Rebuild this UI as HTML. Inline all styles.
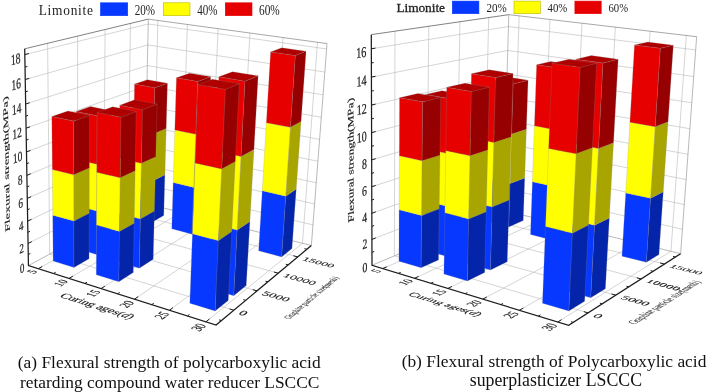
<!DOCTYPE html>
<html><head><meta charset="utf-8"><title>Flexural strength</title>
<style>html,body{margin:0;padding:0;background:#fff}svg{display:block;will-change:transform}</style></head>
<body><svg width="709" height="392" viewBox="0 0 709 392">
<rect width="709" height="392" fill="#fff"/>
<g><line x1="38.31" y1="268.68" x2="153.34" y2="205.39" stroke="#b8b8b8" stroke-width="0.6"/>
<line x1="153.34" y1="205.39" x2="157.86" y2="20.43" stroke="#b8b8b8" stroke-width="0.6"/>
<line x1="69.03" y1="278.42" x2="181.08" y2="212.44" stroke="#b8b8b8" stroke-width="0.6"/>
<line x1="181.08" y1="212.44" x2="187.41" y2="24.47" stroke="#b8b8b8" stroke-width="0.6"/>
<line x1="101.06" y1="288.58" x2="209.8" y2="219.73" stroke="#b8b8b8" stroke-width="0.6"/>
<line x1="209.8" y1="219.73" x2="218.08" y2="28.67" stroke="#b8b8b8" stroke-width="0.6"/>
<line x1="134.49" y1="299.19" x2="239.57" y2="227.3" stroke="#b8b8b8" stroke-width="0.6"/>
<line x1="239.57" y1="227.3" x2="249.93" y2="33.02" stroke="#b8b8b8" stroke-width="0.6"/>
<line x1="169.42" y1="310.27" x2="270.44" y2="235.14" stroke="#b8b8b8" stroke-width="0.6"/>
<line x1="270.44" y1="235.14" x2="283.04" y2="37.55" stroke="#b8b8b8" stroke-width="0.6"/>
<line x1="205.94" y1="321.85" x2="302.48" y2="243.28" stroke="#b8b8b8" stroke-width="0.6"/>
<line x1="302.48" y1="243.28" x2="317.49" y2="42.26" stroke="#b8b8b8" stroke-width="0.6"/>
<line x1="49.71" y1="254.09" x2="233.87" y2="310.24" stroke="#b8b8b8" stroke-width="0.6"/>
<line x1="49.71" y1="254.09" x2="47.61" y2="43.3" stroke="#b8b8b8" stroke-width="0.6"/>
<line x1="77.69" y1="239.03" x2="257.04" y2="290.9" stroke="#b8b8b8" stroke-width="0.6"/>
<line x1="77.69" y1="239.03" x2="77.58" y2="36.11" stroke="#b8b8b8" stroke-width="0.6"/>
<line x1="103.55" y1="225.11" x2="278.24" y2="273.19" stroke="#b8b8b8" stroke-width="0.6"/>
<line x1="103.55" y1="225.11" x2="105.12" y2="29.5" stroke="#b8b8b8" stroke-width="0.6"/>
<line x1="127.51" y1="212.2" x2="297.72" y2="256.92" stroke="#b8b8b8" stroke-width="0.6"/>
<line x1="127.51" y1="212.2" x2="130.51" y2="23.41" stroke="#b8b8b8" stroke-width="0.6"/>
<line x1="28.06" y1="243.5" x2="144.8" y2="184.2" stroke="#b8b8b8" stroke-width="0.6"/>
<line x1="144.8" y1="184.2" x2="312.95" y2="224.9" stroke="#b8b8b8" stroke-width="0.6"/>
<line x1="27.68" y1="221.13" x2="145.21" y2="165.06" stroke="#b8b8b8" stroke-width="0.6"/>
<line x1="145.21" y1="165.06" x2="314.58" y2="203.98" stroke="#b8b8b8" stroke-width="0.6"/>
<line x1="27.29" y1="198.41" x2="145.62" y2="145.67" stroke="#b8b8b8" stroke-width="0.6"/>
<line x1="145.62" y1="145.67" x2="316.23" y2="182.76" stroke="#b8b8b8" stroke-width="0.6"/>
<line x1="26.89" y1="175.35" x2="146.04" y2="126.04" stroke="#b8b8b8" stroke-width="0.6"/>
<line x1="146.04" y1="126.04" x2="317.9" y2="161.25" stroke="#b8b8b8" stroke-width="0.6"/>
<line x1="26.49" y1="151.94" x2="146.47" y2="106.15" stroke="#b8b8b8" stroke-width="0.6"/>
<line x1="146.47" y1="106.15" x2="319.59" y2="139.42" stroke="#b8b8b8" stroke-width="0.6"/>
<line x1="26.08" y1="128.16" x2="146.9" y2="86.01" stroke="#b8b8b8" stroke-width="0.6"/>
<line x1="146.9" y1="86.01" x2="321.31" y2="117.29" stroke="#b8b8b8" stroke-width="0.6"/>
<line x1="25.66" y1="104.02" x2="147.34" y2="65.6" stroke="#b8b8b8" stroke-width="0.6"/>
<line x1="147.34" y1="65.6" x2="323.06" y2="94.83" stroke="#b8b8b8" stroke-width="0.6"/>
<line x1="25.24" y1="79.49" x2="147.78" y2="44.93" stroke="#b8b8b8" stroke-width="0.6"/>
<line x1="147.78" y1="44.93" x2="324.83" y2="72.05" stroke="#b8b8b8" stroke-width="0.6"/>
<line x1="24.81" y1="54.58" x2="148.23" y2="23.99" stroke="#b8b8b8" stroke-width="0.6"/>
<line x1="148.23" y1="23.99" x2="326.63" y2="48.94" stroke="#b8b8b8" stroke-width="0.6"/>
<line x1="24.71" y1="48.79" x2="148.34" y2="19.13" stroke="#4a4a4a" stroke-width="0.7"/>
<line x1="148.34" y1="19.13" x2="327.04" y2="43.57" stroke="#787878" stroke-width="0.65"/>
<line x1="144.39" y1="203.11" x2="148.34" y2="19.13" stroke="#909090" stroke-width="0.6"/>
<line x1="311.35" y1="245.54" x2="327.04" y2="43.57" stroke="#888" stroke-width="0.6"/>
<line x1="28.44" y1="265.55" x2="144.39" y2="203.11" stroke="#999" stroke-width="0.7"/>
<line x1="144.39" y1="203.11" x2="311.35" y2="245.54" stroke="#999" stroke-width="0.7"/>
<polygon points="258.64,250.81 281.67,256.92 285.81,196.16 262.25,190.77" fill="#0638ff" stroke="#8c8c8c" stroke-width="0.4" stroke-opacity="0.55" stroke-linejoin="round"/>
<polygon points="281.67,256.92 291.99,248.59 296.24,189.01 285.81,196.16" fill="#0424aa" stroke="#8c8c8c" stroke-width="0.4" stroke-opacity="0.55" stroke-linejoin="round"/>
<polygon points="262.25,190.77 285.81,196.16 290.49,127.34 266.34,122.79" fill="#ffff00" stroke="#8c8c8c" stroke-width="0.4" stroke-opacity="0.55" stroke-linejoin="round"/>
<polygon points="285.81,196.16 296.24,189.01 301.05,121.59 290.49,127.34" fill="#a9a500" stroke="#8c8c8c" stroke-width="0.4" stroke-opacity="0.55" stroke-linejoin="round"/>
<polygon points="266.34,122.79 290.49,127.34 295.37,55.5 270.6,51.88" fill="#e60000" stroke="#8c8c8c" stroke-width="0.4" stroke-opacity="0.55" stroke-linejoin="round"/>
<polygon points="290.49,127.34 301.05,121.59 306.06,51.28 295.37,55.5" fill="#960000" stroke="#8c8c8c" stroke-width="0.4" stroke-opacity="0.55" stroke-linejoin="round"/>
<polygon points="270.6,51.88 295.37,55.5 306.06,51.28 281.7,47.8" fill="#ae0000" stroke="#8c8c8c" stroke-width="0.4" stroke-opacity="0.55" stroke-linejoin="round"/>
<polygon points="132.21,217.36 151.65,222.52 152.65,181 132.93,176.29" fill="#0638ff" stroke="#8c8c8c" stroke-width="0.4" stroke-opacity="0.55" stroke-linejoin="round"/>
<polygon points="151.65,222.52 163.76,215.54 164.9,174.77 152.65,181" fill="#0424aa" stroke="#8c8c8c" stroke-width="0.4" stroke-opacity="0.55" stroke-linejoin="round"/>
<polygon points="132.93,176.29 152.65,181 153.78,133.76 133.74,129.58" fill="#ffff00" stroke="#8c8c8c" stroke-width="0.4" stroke-opacity="0.55" stroke-linejoin="round"/>
<polygon points="152.65,181 164.9,174.77 166.2,128.4 153.78,133.76" fill="#a9a500" stroke="#8c8c8c" stroke-width="0.4" stroke-opacity="0.55" stroke-linejoin="round"/>
<polygon points="133.74,129.58 153.78,133.76 154.89,87.72 134.54,84.07" fill="#e60000" stroke="#8c8c8c" stroke-width="0.4" stroke-opacity="0.55" stroke-linejoin="round"/>
<polygon points="153.78,133.76 166.2,128.4 167.46,83.24 154.89,87.72" fill="#960000" stroke="#8c8c8c" stroke-width="0.4" stroke-opacity="0.55" stroke-linejoin="round"/>
<polygon points="134.54,84.07 154.89,87.72 167.46,83.24 147.37,79.72" fill="#ae0000" stroke="#8c8c8c" stroke-width="0.4" stroke-opacity="0.55" stroke-linejoin="round"/>
<polygon points="171.78,228.85 192.07,234.24 193.84,187.39 173.2,182.51" fill="#0638ff" stroke="#8c8c8c" stroke-width="0.4" stroke-opacity="0.55" stroke-linejoin="round"/>
<polygon points="192.07,234.24 204.46,226.33 206.38,180.4 193.84,187.39" fill="#0424aa" stroke="#8c8c8c" stroke-width="0.4" stroke-opacity="0.55" stroke-linejoin="round"/>
<polygon points="173.2,182.51 193.84,187.39 195.83,134.21 174.82,129.93" fill="#ffff00" stroke="#8c8c8c" stroke-width="0.4" stroke-opacity="0.55" stroke-linejoin="round"/>
<polygon points="193.84,187.39 206.38,180.4 208.54,128.3 195.83,134.21" fill="#a9a500" stroke="#8c8c8c" stroke-width="0.4" stroke-opacity="0.55" stroke-linejoin="round"/>
<polygon points="174.82,129.93 195.83,134.21 197.82,81.44 176.42,77.79" fill="#e60000" stroke="#8c8c8c" stroke-width="0.4" stroke-opacity="0.55" stroke-linejoin="round"/>
<polygon points="195.83,134.21 208.54,128.3 210.69,76.65 197.82,81.44" fill="#960000" stroke="#8c8c8c" stroke-width="0.4" stroke-opacity="0.55" stroke-linejoin="round"/>
<polygon points="176.42,77.79 197.82,81.44 210.69,76.65 189.62,73.13" fill="#ae0000" stroke="#8c8c8c" stroke-width="0.4" stroke-opacity="0.55" stroke-linejoin="round"/>
<polygon points="76.44,248.48 96.52,254.41 96.76,210.95 76.4,205.5" fill="#0638ff" stroke="#8c8c8c" stroke-width="0.4" stroke-opacity="0.55" stroke-linejoin="round"/>
<polygon points="96.52,254.41 109.84,246.72 110.28,204.03 96.76,210.95" fill="#0424aa" stroke="#8c8c8c" stroke-width="0.4" stroke-opacity="0.55" stroke-linejoin="round"/>
<polygon points="76.4,205.5 96.76,210.95 97.03,164.27 76.35,159.38" fill="#ffff00" stroke="#8c8c8c" stroke-width="0.4" stroke-opacity="0.55" stroke-linejoin="round"/>
<polygon points="96.76,210.95 110.28,204.03 110.74,158.22 97.03,164.27" fill="#a9a500" stroke="#8c8c8c" stroke-width="0.4" stroke-opacity="0.55" stroke-linejoin="round"/>
<polygon points="76.35,159.38 97.03,164.27 97.31,115.85 76.3,111.55" fill="#e60000" stroke="#8c8c8c" stroke-width="0.4" stroke-opacity="0.55" stroke-linejoin="round"/>
<polygon points="97.03,164.27 110.74,158.22 111.23,110.73 97.31,115.85" fill="#960000" stroke="#8c8c8c" stroke-width="0.4" stroke-opacity="0.55" stroke-linejoin="round"/>
<polygon points="76.3,111.55 97.31,115.85 111.23,110.73 90.47,106.59" fill="#ae0000" stroke="#8c8c8c" stroke-width="0.4" stroke-opacity="0.55" stroke-linejoin="round"/>
<polygon points="117.73,261.73 139.35,268.14 140.35,218.95 118.36,213.13" fill="#0638ff" stroke="#8c8c8c" stroke-width="0.4" stroke-opacity="0.55" stroke-linejoin="round"/>
<polygon points="139.35,268.14 153.22,259.28 154.42,211.06 140.35,218.95" fill="#0424aa" stroke="#8c8c8c" stroke-width="0.4" stroke-opacity="0.55" stroke-linejoin="round"/>
<polygon points="118.36,213.13 140.35,218.95 141.47,163.37 119.07,158.23" fill="#ffff00" stroke="#8c8c8c" stroke-width="0.4" stroke-opacity="0.55" stroke-linejoin="round"/>
<polygon points="140.35,218.95 154.42,211.06 155.77,156.63 141.47,163.37" fill="#a9a500" stroke="#8c8c8c" stroke-width="0.4" stroke-opacity="0.55" stroke-linejoin="round"/>
<polygon points="119.07,158.23 141.47,163.37 142.56,109.65 119.75,105.21" fill="#e60000" stroke="#8c8c8c" stroke-width="0.4" stroke-opacity="0.55" stroke-linejoin="round"/>
<polygon points="141.47,163.37 155.77,156.63 157.08,104.07 142.56,109.65" fill="#960000" stroke="#8c8c8c" stroke-width="0.4" stroke-opacity="0.55" stroke-linejoin="round"/>
<polygon points="119.75,105.21 142.56,109.65 157.08,104.07 134.6,99.8" fill="#ae0000" stroke="#8c8c8c" stroke-width="0.4" stroke-opacity="0.55" stroke-linejoin="round"/>
<polygon points="209.51,288.54 233.75,295.71 237.19,230.12 212.38,223.76" fill="#0638ff" stroke="#8c8c8c" stroke-width="0.4" stroke-opacity="0.55" stroke-linejoin="round"/>
<polygon points="233.75,295.71 246.26,285.61 249.9,221.4 237.19,230.12" fill="#0424aa" stroke="#8c8c8c" stroke-width="0.4" stroke-opacity="0.55" stroke-linejoin="round"/>
<polygon points="212.38,223.76 237.19,230.12 241.06,156.51 215.59,151.12" fill="#ffff00" stroke="#8c8c8c" stroke-width="0.4" stroke-opacity="0.55" stroke-linejoin="round"/>
<polygon points="237.19,230.12 249.9,221.4 253.98,149.42 241.06,156.51" fill="#a9a500" stroke="#8c8c8c" stroke-width="0.4" stroke-opacity="0.55" stroke-linejoin="round"/>
<polygon points="215.59,151.12 241.06,156.51 245.03,81.18 218.87,76.84" fill="#e60000" stroke="#8c8c8c" stroke-width="0.4" stroke-opacity="0.55" stroke-linejoin="round"/>
<polygon points="241.06,156.51 253.98,149.42 258.14,75.85 245.03,81.18" fill="#960000" stroke="#8c8c8c" stroke-width="0.4" stroke-opacity="0.55" stroke-linejoin="round"/>
<polygon points="218.87,76.84 245.03,81.18 258.14,75.85 232.45,71.7" fill="#ae0000" stroke="#8c8c8c" stroke-width="0.4" stroke-opacity="0.55" stroke-linejoin="round"/>
<polygon points="96.25,274.79 118.86,281.78 119.53,231.4 96.53,225.05" fill="#0638ff" stroke="#8c8c8c" stroke-width="0.4" stroke-opacity="0.55" stroke-linejoin="round"/>
<polygon points="118.86,281.78 133.3,272.54 134.2,223.16 119.53,231.4" fill="#0424aa" stroke="#8c8c8c" stroke-width="0.4" stroke-opacity="0.55" stroke-linejoin="round"/>
<polygon points="96.53,225.05 119.53,231.4 120.24,177.86 96.83,172.2" fill="#ffff00" stroke="#8c8c8c" stroke-width="0.4" stroke-opacity="0.55" stroke-linejoin="round"/>
<polygon points="119.53,231.4 134.2,223.16 135.15,170.73 120.24,177.86" fill="#a9a500" stroke="#8c8c8c" stroke-width="0.4" stroke-opacity="0.55" stroke-linejoin="round"/>
<polygon points="96.83,172.2 120.24,177.86 121.05,117.23 97.17,112.39" fill="#e60000" stroke="#8c8c8c" stroke-width="0.4" stroke-opacity="0.55" stroke-linejoin="round"/>
<polygon points="120.24,177.86 135.15,170.73 136.23,111.41 121.05,117.23" fill="#960000" stroke="#8c8c8c" stroke-width="0.4" stroke-opacity="0.55" stroke-linejoin="round"/>
<polygon points="97.17,112.39 121.05,117.23 136.23,111.41 112.68,106.77" fill="#ae0000" stroke="#8c8c8c" stroke-width="0.4" stroke-opacity="0.55" stroke-linejoin="round"/>
<polygon points="189.82,303.27 215.16,311.1 218.43,240.69 192.44,233.79" fill="#0638ff" stroke="#8c8c8c" stroke-width="0.4" stroke-opacity="0.55" stroke-linejoin="round"/>
<polygon points="215.16,311.1 228.26,300.51 231.77,231.59 218.43,240.69" fill="#0424aa" stroke="#8c8c8c" stroke-width="0.4" stroke-opacity="0.55" stroke-linejoin="round"/>
<polygon points="192.44,233.79 218.43,240.69 221.77,168.91 195.11,163.01" fill="#ffff00" stroke="#8c8c8c" stroke-width="0.4" stroke-opacity="0.55" stroke-linejoin="round"/>
<polygon points="218.43,240.69 231.77,231.59 235.33,161.42 221.77,168.91" fill="#a9a500" stroke="#8c8c8c" stroke-width="0.4" stroke-opacity="0.55" stroke-linejoin="round"/>
<polygon points="195.11,163.01 221.77,168.91 225.47,89.3 198.07,84.56" fill="#e60000" stroke="#8c8c8c" stroke-width="0.4" stroke-opacity="0.55" stroke-linejoin="round"/>
<polygon points="221.77,168.91 235.33,161.42 239.28,83.68 225.47,89.3" fill="#960000" stroke="#8c8c8c" stroke-width="0.4" stroke-opacity="0.55" stroke-linejoin="round"/>
<polygon points="198.07,84.56 225.47,89.3 239.28,83.68 212.35,79.16" fill="#ae0000" stroke="#8c8c8c" stroke-width="0.4" stroke-opacity="0.55" stroke-linejoin="round"/>
<polygon points="53.13,261.1 73.98,267.55 73.9,221.03 52.72,215.14" fill="#0638ff" stroke="#8c8c8c" stroke-width="0.4" stroke-opacity="0.55" stroke-linejoin="round"/>
<polygon points="73.98,267.55 89.06,258.84 89.21,213.23 73.9,221.03" fill="#0424aa" stroke="#8c8c8c" stroke-width="0.4" stroke-opacity="0.55" stroke-linejoin="round"/>
<polygon points="52.72,215.14 73.9,221.03 73.81,174.79 52.32,169.47" fill="#ffff00" stroke="#8c8c8c" stroke-width="0.4" stroke-opacity="0.55" stroke-linejoin="round"/>
<polygon points="73.9,221.03 89.21,213.23 89.36,167.92 73.81,174.79" fill="#a9a500" stroke="#8c8c8c" stroke-width="0.4" stroke-opacity="0.55" stroke-linejoin="round"/>
<polygon points="52.32,169.47 73.81,174.79 73.71,121.06 51.84,116.43" fill="#e60000" stroke="#8c8c8c" stroke-width="0.4" stroke-opacity="0.55" stroke-linejoin="round"/>
<polygon points="73.81,174.79 89.36,167.92 89.53,115.32 73.71,121.06" fill="#960000" stroke="#8c8c8c" stroke-width="0.4" stroke-opacity="0.55" stroke-linejoin="round"/>
<polygon points="51.84,116.43 73.71,121.06 89.53,115.32 67.93,110.88" fill="#ae0000" stroke="#8c8c8c" stroke-width="0.4" stroke-opacity="0.55" stroke-linejoin="round"/>
<polyline points="24.71,48.79 28.44,265.55 216.1,325.08 311.35,245.54" fill="none" stroke="#1c1c1c" stroke-width="1.25" stroke-linejoin="miter"/>
<line x1="28.25" y1="254.57" x2="30.38" y2="253.45" stroke="#1c1c1c" stroke-width="1.0"/>
<line x1="28.06" y1="243.5" x2="31.81" y2="241.6" stroke="#1c1c1c" stroke-width="1.0"/>
<line x1="27.87" y1="232.35" x2="30.02" y2="231.29" stroke="#1c1c1c" stroke-width="1.0"/>
<line x1="27.68" y1="221.13" x2="31.47" y2="219.32" stroke="#1c1c1c" stroke-width="1.0"/>
<line x1="27.48" y1="209.81" x2="29.66" y2="208.81" stroke="#1c1c1c" stroke-width="1.0"/>
<line x1="27.29" y1="198.41" x2="31.12" y2="196.7" stroke="#1c1c1c" stroke-width="1.0"/>
<line x1="27.09" y1="186.92" x2="29.3" y2="185.98" stroke="#1c1c1c" stroke-width="1.0"/>
<line x1="26.89" y1="175.35" x2="30.77" y2="173.74" stroke="#1c1c1c" stroke-width="1.0"/>
<line x1="26.69" y1="163.69" x2="28.92" y2="162.8" stroke="#1c1c1c" stroke-width="1.0"/>
<line x1="26.49" y1="151.94" x2="30.41" y2="150.44" stroke="#1c1c1c" stroke-width="1.0"/>
<line x1="26.28" y1="140.1" x2="28.54" y2="139.27" stroke="#1c1c1c" stroke-width="1.0"/>
<line x1="26.08" y1="128.16" x2="30.04" y2="126.78" stroke="#1c1c1c" stroke-width="1.0"/>
<line x1="25.87" y1="116.14" x2="28.15" y2="115.38" stroke="#1c1c1c" stroke-width="1.0"/>
<line x1="25.66" y1="104.02" x2="29.67" y2="102.75" stroke="#1c1c1c" stroke-width="1.0"/>
<line x1="25.45" y1="91.8" x2="27.75" y2="91.12" stroke="#1c1c1c" stroke-width="1.0"/>
<line x1="25.24" y1="79.49" x2="29.28" y2="78.35" stroke="#1c1c1c" stroke-width="1.0"/>
<line x1="25.03" y1="67.09" x2="27.35" y2="66.47" stroke="#1c1c1c" stroke-width="1.0"/>
<line x1="24.81" y1="54.58" x2="28.89" y2="53.57" stroke="#1c1c1c" stroke-width="1.0"/>
<line x1="38.31" y1="268.68" x2="42.26" y2="266.51" stroke="#1c1c1c" stroke-width="1.0"/>
<line x1="53.51" y1="273.5" x2="55.69" y2="272.26" stroke="#1c1c1c" stroke-width="1.0"/>
<line x1="69.03" y1="278.42" x2="72.91" y2="276.14" stroke="#1c1c1c" stroke-width="1.0"/>
<line x1="84.88" y1="283.45" x2="87.01" y2="282.15" stroke="#1c1c1c" stroke-width="1.0"/>
<line x1="101.06" y1="288.58" x2="104.86" y2="286.18" stroke="#1c1c1c" stroke-width="1.0"/>
<line x1="117.6" y1="293.83" x2="119.68" y2="292.45" stroke="#1c1c1c" stroke-width="1.0"/>
<line x1="134.49" y1="299.19" x2="138.21" y2="296.65" stroke="#1c1c1c" stroke-width="1.0"/>
<line x1="151.76" y1="304.67" x2="153.8" y2="303.22" stroke="#1c1c1c" stroke-width="1.0"/>
<line x1="169.42" y1="310.27" x2="173.03" y2="307.58" stroke="#1c1c1c" stroke-width="1.0"/>
<line x1="187.47" y1="315.99" x2="189.45" y2="314.46" stroke="#1c1c1c" stroke-width="1.0"/>
<line x1="205.94" y1="321.85" x2="209.43" y2="319.01" stroke="#1c1c1c" stroke-width="1.0"/>
<line x1="221.46" y1="320.6" x2="219.08" y2="319.86" stroke="#1c1c1c" stroke-width="1.0"/>
<line x1="233.87" y1="310.24" x2="229.56" y2="308.93" stroke="#1c1c1c" stroke-width="1.0"/>
<line x1="245.71" y1="300.35" x2="243.32" y2="299.64" stroke="#1c1c1c" stroke-width="1.0"/>
<line x1="257.04" y1="290.9" x2="252.71" y2="289.65" stroke="#1c1c1c" stroke-width="1.0"/>
<line x1="267.87" y1="281.85" x2="265.46" y2="281.17" stroke="#1c1c1c" stroke-width="1.0"/>
<line x1="278.24" y1="273.19" x2="273.9" y2="272" stroke="#1c1c1c" stroke-width="1.0"/>
<line x1="288.18" y1="264.89" x2="285.77" y2="264.24" stroke="#1c1c1c" stroke-width="1.0"/>
<line x1="297.72" y1="256.92" x2="293.37" y2="255.78" stroke="#1c1c1c" stroke-width="1.0"/>
<line x1="306.88" y1="249.27" x2="304.45" y2="248.65" stroke="#1c1c1c" stroke-width="1.0"/>
<text transform="matrix(0.4457 -0.2422 0.0121 0.6480 24.35 271.44)" font-family="Liberation Serif, serif" font-size="20" text-anchor="end" fill="#1a1a1a" stroke="#1a1a1a" stroke-width="0.35">0</text>
<text transform="matrix(0.4488 -0.2318 0.0122 0.6566 23.99 251.8)" font-family="Liberation Serif, serif" font-size="20" text-anchor="end" fill="#1a1a1a" stroke="#1a1a1a" stroke-width="0.35">2</text>
<text transform="matrix(0.4525 -0.2197 0.0124 0.6665 23.57 229.4)" font-family="Liberation Serif, serif" font-size="20" text-anchor="end" fill="#1a1a1a" stroke="#1a1a1a" stroke-width="0.35">4</text>
<text transform="matrix(0.4562 -0.2073 0.0126 0.6766 23.14 206.67)" font-family="Liberation Serif, serif" font-size="20" text-anchor="end" fill="#1a1a1a" stroke="#1a1a1a" stroke-width="0.35">6</text>
<text transform="matrix(0.4599 -0.1944 0.0128 0.6870 22.71 183.58)" font-family="Liberation Serif, serif" font-size="20" text-anchor="end" fill="#1a1a1a" stroke="#1a1a1a" stroke-width="0.35">8</text>
<text transform="matrix(0.4637 -0.1811 0.0130 0.6976 22.28 160.14)" font-family="Liberation Serif, serif" font-size="20" text-anchor="end" fill="#1a1a1a" stroke="#1a1a1a" stroke-width="0.35">10</text>
<text transform="matrix(0.4676 -0.1674 0.0132 0.7085 21.84 136.34)" font-family="Liberation Serif, serif" font-size="20" text-anchor="end" fill="#1a1a1a" stroke="#1a1a1a" stroke-width="0.35">12</text>
<text transform="matrix(0.4716 -0.1532 0.0134 0.7196 21.38 112.17)" font-family="Liberation Serif, serif" font-size="20" text-anchor="end" fill="#1a1a1a" stroke="#1a1a1a" stroke-width="0.35">14</text>
<text transform="matrix(0.4756 -0.1386 0.0136 0.7310 20.93 87.61)" font-family="Liberation Serif, serif" font-size="20" text-anchor="end" fill="#1a1a1a" stroke="#1a1a1a" stroke-width="0.35">16</text>
<text transform="matrix(0.4796 -0.1234 0.0138 0.7426 20.46 62.67)" font-family="Liberation Serif, serif" font-size="20" text-anchor="end" fill="#1a1a1a" stroke="#1a1a1a" stroke-width="0.35">18</text>
<text transform="matrix(0.4416 -0.2447 0.5429 0.1734 37.94 271.67)" font-family="Liberation Serif, serif" font-size="20" text-anchor="end" fill="#1a1a1a" stroke="#1a1a1a" stroke-width="0.35">5</text>
<text transform="matrix(0.4315 -0.2560 0.5661 0.1808 68.87 281.55)" font-family="Liberation Serif, serif" font-size="20" text-anchor="end" fill="#1a1a1a" stroke="#1a1a1a" stroke-width="0.35">10</text>
<text transform="matrix(0.4201 -0.2681 0.5908 0.1887 101.14 291.85)" font-family="Liberation Serif, serif" font-size="20" text-anchor="end" fill="#1a1a1a" stroke="#1a1a1a" stroke-width="0.35">15</text>
<text transform="matrix(0.4074 -0.2811 0.6171 0.1971 134.83 302.61)" font-family="Liberation Serif, serif" font-size="20" text-anchor="end" fill="#1a1a1a" stroke="#1a1a1a" stroke-width="0.35">20</text>
<text transform="matrix(0.3930 -0.2949 0.6452 0.2060 170.04 313.85)" font-family="Liberation Serif, serif" font-size="20" text-anchor="end" fill="#1a1a1a" stroke="#1a1a1a" stroke-width="0.35">25</text>
<text transform="matrix(0.3768 -0.3098 0.6753 0.2156 206.87 325.62)" font-family="Liberation Serif, serif" font-size="20" text-anchor="end" fill="#1a1a1a" stroke="#1a1a1a" stroke-width="0.35">30</text>
<text transform="matrix(0.6698 0.2053 -0.3462 0.2939 237.79 314.11)" font-family="Liberation Serif, serif" font-size="20" text-anchor="start" fill="#1a1a1a" stroke="#1a1a1a" stroke-width="0.35">0</text>
<text transform="matrix(0.6488 0.1886 -0.3160 0.2683 260.96 294.44)" font-family="Liberation Serif, serif" font-size="20" text-anchor="start" fill="#1a1a1a" stroke="#1a1a1a" stroke-width="0.35">5000</text>
<text transform="matrix(0.6289 0.1739 -0.2896 0.2458 282.16 276.45)" font-family="Liberation Serif, serif" font-size="20" text-anchor="start" fill="#1a1a1a" stroke="#1a1a1a" stroke-width="0.35">10000</text>
<text transform="matrix(0.6100 0.1610 -0.2664 0.2261 301.62 259.93)" font-family="Liberation Serif, serif" font-size="20" text-anchor="start" fill="#1a1a1a" stroke="#1a1a1a" stroke-width="0.35">15000</text>
<text transform="matrix(0.6544 0.2076 -0.4499 0.2952 94.5 308)" font-family="Liberation Serif, serif" font-size="20" text-anchor="middle" textLength="109.24" lengthAdjust="spacingAndGlyphs" fill="#1a1a1a" stroke="#1a1a1a" stroke-width="0.35">Curing ages(<tspan font-style="italic">d</tspan>)</text>
<text transform="matrix(0.2170 -0.1812 0.4542 0.1280 314.3 298.7)" font-family="Liberation Serif, serif" font-size="20" text-anchor="middle" textLength="229.89" lengthAdjust="spacingAndGlyphs" fill="#2a2a2a" stroke="#2a2a2a" stroke-width="0.15">Graphite particle size(mesh)</text>
<text transform="matrix(-0.0123 -0.7144 0.3506 -0.1382 8.8 163.2)" font-family="Liberation Serif, serif" font-size="20" text-anchor="middle" textLength="188.94" lengthAdjust="spacingAndGlyphs" fill="#1a1a1a" stroke="#1a1a1a" stroke-width="0.35">Flexural strength(MPa)</text></g>
<g><line x1="382.67" y1="268.53" x2="512.9" y2="212.69" stroke="#b8b8b8" stroke-width="0.6"/>
<line x1="512.9" y1="212.69" x2="519.15" y2="15.86" stroke="#b8b8b8" stroke-width="0.6"/>
<line x1="414.55" y1="278.27" x2="542.14" y2="219.83" stroke="#b8b8b8" stroke-width="0.6"/>
<line x1="542.14" y1="219.83" x2="549.95" y2="19.47" stroke="#b8b8b8" stroke-width="0.6"/>
<line x1="447.88" y1="288.47" x2="572.49" y2="227.24" stroke="#b8b8b8" stroke-width="0.6"/>
<line x1="572.49" y1="227.24" x2="582" y2="23.23" stroke="#b8b8b8" stroke-width="0.6"/>
<line x1="482.78" y1="299.14" x2="604.03" y2="234.95" stroke="#b8b8b8" stroke-width="0.6"/>
<line x1="604.03" y1="234.95" x2="615.35" y2="27.15" stroke="#b8b8b8" stroke-width="0.6"/>
<line x1="519.34" y1="310.32" x2="636.82" y2="242.96" stroke="#b8b8b8" stroke-width="0.6"/>
<line x1="636.82" y1="242.96" x2="650.11" y2="31.22" stroke="#b8b8b8" stroke-width="0.6"/>
<line x1="557.71" y1="322.04" x2="670.94" y2="251.29" stroke="#b8b8b8" stroke-width="0.6"/>
<line x1="670.94" y1="251.29" x2="686.35" y2="35.48" stroke="#b8b8b8" stroke-width="0.6"/>
<line x1="394.4" y1="255.87" x2="588.15" y2="312.91" stroke="#b8b8b8" stroke-width="0.6"/>
<line x1="394.4" y1="255.87" x2="394.97" y2="31.19" stroke="#b8b8b8" stroke-width="0.6"/>
<line x1="426.53" y1="242.39" x2="615.84" y2="295.18" stroke="#b8b8b8" stroke-width="0.6"/>
<line x1="426.53" y1="242.39" x2="428.8" y2="26.27" stroke="#b8b8b8" stroke-width="0.6"/>
<line x1="456.23" y1="229.93" x2="641.18" y2="278.94" stroke="#b8b8b8" stroke-width="0.6"/>
<line x1="456.23" y1="229.93" x2="459.94" y2="21.75" stroke="#b8b8b8" stroke-width="0.6"/>
<line x1="483.77" y1="218.38" x2="664.46" y2="264.03" stroke="#b8b8b8" stroke-width="0.6"/>
<line x1="483.77" y1="218.38" x2="488.71" y2="17.57" stroke="#b8b8b8" stroke-width="0.6"/>
<line x1="371.92" y1="239.43" x2="503.71" y2="188.19" stroke="#b8b8b8" stroke-width="0.6"/>
<line x1="503.71" y1="188.19" x2="682.44" y2="229.28" stroke="#b8b8b8" stroke-width="0.6"/>
<line x1="371.84" y1="213.25" x2="504.37" y2="165.86" stroke="#b8b8b8" stroke-width="0.6"/>
<line x1="504.37" y1="165.86" x2="684.26" y2="204.6" stroke="#b8b8b8" stroke-width="0.6"/>
<line x1="371.76" y1="186.73" x2="505.03" y2="143.28" stroke="#b8b8b8" stroke-width="0.6"/>
<line x1="505.03" y1="143.28" x2="686.11" y2="179.62" stroke="#b8b8b8" stroke-width="0.6"/>
<line x1="371.68" y1="159.87" x2="505.7" y2="120.45" stroke="#b8b8b8" stroke-width="0.6"/>
<line x1="505.7" y1="120.45" x2="687.98" y2="154.32" stroke="#b8b8b8" stroke-width="0.6"/>
<line x1="371.59" y1="132.65" x2="506.37" y2="97.36" stroke="#b8b8b8" stroke-width="0.6"/>
<line x1="506.37" y1="97.36" x2="689.87" y2="128.72" stroke="#b8b8b8" stroke-width="0.6"/>
<line x1="371.51" y1="105.06" x2="507.06" y2="74.02" stroke="#b8b8b8" stroke-width="0.6"/>
<line x1="507.06" y1="74.02" x2="691.79" y2="102.79" stroke="#b8b8b8" stroke-width="0.6"/>
<line x1="371.42" y1="77.1" x2="507.75" y2="50.41" stroke="#b8b8b8" stroke-width="0.6"/>
<line x1="507.75" y1="50.41" x2="693.72" y2="76.53" stroke="#b8b8b8" stroke-width="0.6"/>
<line x1="371.33" y1="48.77" x2="508.45" y2="26.54" stroke="#b8b8b8" stroke-width="0.6"/>
<line x1="508.45" y1="26.54" x2="695.69" y2="49.94" stroke="#b8b8b8" stroke-width="0.6"/>
<line x1="371.29" y1="34.63" x2="508.8" y2="14.65" stroke="#4a4a4a" stroke-width="0.7"/>
<line x1="508.8" y1="14.65" x2="696.67" y2="36.69" stroke="#787878" stroke-width="0.65"/>
<line x1="503.07" y1="210.28" x2="508.8" y2="14.65" stroke="#909090" stroke-width="0.6"/>
<line x1="680.64" y1="253.66" x2="696.67" y2="36.69" stroke="#888" stroke-width="0.6"/>
<line x1="372" y1="265.26" x2="503.07" y2="210.28" stroke="#999" stroke-width="0.7"/>
<line x1="503.07" y1="210.28" x2="680.64" y2="253.66" stroke="#999" stroke-width="0.7"/>
<polygon points="488.91,222 508.76,227.05 510.1,183.58 490.03,179.05" fill="#0638ff" stroke="#8c8c8c" stroke-width="0.4" stroke-opacity="0.55" stroke-linejoin="round"/>
<polygon points="508.76,227.05 523.26,220.57 524.72,177.95 510.1,183.58" fill="#0424aa" stroke="#8c8c8c" stroke-width="0.4" stroke-opacity="0.55" stroke-linejoin="round"/>
<polygon points="490.03,179.05 510.1,183.58 511.63,133.98 491.29,130.03" fill="#ffff00" stroke="#8c8c8c" stroke-width="0.4" stroke-opacity="0.55" stroke-linejoin="round"/>
<polygon points="510.1,183.58 524.72,177.95 526.39,129.31 511.63,133.98" fill="#a9a500" stroke="#8c8c8c" stroke-width="0.4" stroke-opacity="0.55" stroke-linejoin="round"/>
<polygon points="491.29,130.03 511.63,133.98 513.18,83.88 492.57,80.55" fill="#e60000" stroke="#8c8c8c" stroke-width="0.4" stroke-opacity="0.55" stroke-linejoin="round"/>
<polygon points="511.63,133.98 526.39,129.31 528.08,80.23 513.18,83.88" fill="#960000" stroke="#8c8c8c" stroke-width="0.4" stroke-opacity="0.55" stroke-linejoin="round"/>
<polygon points="492.57,80.55 513.18,83.88 528.08,80.23 507.71,77.02" fill="#ae0000" stroke="#8c8c8c" stroke-width="0.4" stroke-opacity="0.55" stroke-linejoin="round"/>
<polygon points="621.98,256.14 646.39,262.35 650.59,198.29 625.73,192.92" fill="#0638ff" stroke="#8c8c8c" stroke-width="0.4" stroke-opacity="0.55" stroke-linejoin="round"/>
<polygon points="646.39,262.35 658.97,254.58 663.27,191.84 650.59,198.29" fill="#0424aa" stroke="#8c8c8c" stroke-width="0.4" stroke-opacity="0.55" stroke-linejoin="round"/>
<polygon points="625.73,192.92 650.59,198.29 655.28,126.69 629.91,122.3" fill="#ffff00" stroke="#8c8c8c" stroke-width="0.4" stroke-opacity="0.55" stroke-linejoin="round"/>
<polygon points="650.59,198.29 663.27,191.84 668.07,121.77 655.28,126.69" fill="#a9a500" stroke="#8c8c8c" stroke-width="0.4" stroke-opacity="0.55" stroke-linejoin="round"/>
<polygon points="629.91,122.3 655.28,126.69 660.41,48.3 634.5,45.02" fill="#e60000" stroke="#8c8c8c" stroke-width="0.4" stroke-opacity="0.55" stroke-linejoin="round"/>
<polygon points="655.28,126.69 668.07,121.77 673.32,45.13 660.41,48.3" fill="#960000" stroke="#8c8c8c" stroke-width="0.4" stroke-opacity="0.55" stroke-linejoin="round"/>
<polygon points="634.5,45.02 660.41,48.3 673.32,45.13 647.81,41.97" fill="#ae0000" stroke="#8c8c8c" stroke-width="0.4" stroke-opacity="0.55" stroke-linejoin="round"/>
<polygon points="530.48,234.48 551.65,239.89 553.87,186.48 532.4,181.72" fill="#0638ff" stroke="#8c8c8c" stroke-width="0.4" stroke-opacity="0.55" stroke-linejoin="round"/>
<polygon points="551.65,239.89 565.01,233.28 567.36,180.88 553.87,186.48" fill="#0424aa" stroke="#8c8c8c" stroke-width="0.4" stroke-opacity="0.55" stroke-linejoin="round"/>
<polygon points="532.4,181.72 553.87,186.48 556.22,129.88 534.42,125.83" fill="#ffff00" stroke="#8c8c8c" stroke-width="0.4" stroke-opacity="0.55" stroke-linejoin="round"/>
<polygon points="553.87,186.48 567.36,180.88 569.85,125.37 556.22,129.88" fill="#a9a500" stroke="#8c8c8c" stroke-width="0.4" stroke-opacity="0.55" stroke-linejoin="round"/>
<polygon points="534.42,125.83 556.22,129.88 558.8,68.02 536.64,64.76" fill="#e60000" stroke="#8c8c8c" stroke-width="0.4" stroke-opacity="0.55" stroke-linejoin="round"/>
<polygon points="556.22,129.88 569.85,125.37 572.56,64.74 558.8,68.02" fill="#960000" stroke="#8c8c8c" stroke-width="0.4" stroke-opacity="0.55" stroke-linejoin="round"/>
<polygon points="536.64,64.76 558.8,68.02 572.56,64.74 550.68,61.59" fill="#ae0000" stroke="#8c8c8c" stroke-width="0.4" stroke-opacity="0.55" stroke-linejoin="round"/>
<polygon points="424.1,249.93 445.11,255.91 445.87,205.98 424.59,200.64" fill="#0638ff" stroke="#8c8c8c" stroke-width="0.4" stroke-opacity="0.55" stroke-linejoin="round"/>
<polygon points="445.11,255.91 460.63,248.97 461.56,199.98 445.87,205.98" fill="#0424aa" stroke="#8c8c8c" stroke-width="0.4" stroke-opacity="0.55" stroke-linejoin="round"/>
<polygon points="424.59,200.64 445.87,205.98 446.67,153.34 425.11,148.7" fill="#ffff00" stroke="#8c8c8c" stroke-width="0.4" stroke-opacity="0.55" stroke-linejoin="round"/>
<polygon points="445.87,205.98 461.56,199.98 462.54,148.35 446.67,153.34" fill="#a9a500" stroke="#8c8c8c" stroke-width="0.4" stroke-opacity="0.55" stroke-linejoin="round"/>
<polygon points="425.11,148.7 446.67,153.34 447.5,98.29 425.64,94.4" fill="#e60000" stroke="#8c8c8c" stroke-width="0.4" stroke-opacity="0.55" stroke-linejoin="round"/>
<polygon points="446.67,153.34 462.54,148.35 463.56,94.39 447.5,98.29" fill="#960000" stroke="#8c8c8c" stroke-width="0.4" stroke-opacity="0.55" stroke-linejoin="round"/>
<polygon points="425.64,94.4 447.5,98.29 463.56,94.39 441.93,90.63" fill="#ae0000" stroke="#8c8c8c" stroke-width="0.4" stroke-opacity="0.55" stroke-linejoin="round"/>
<polygon points="565.24,290.44 590.79,297.72 594.55,225.37 568.49,219.12" fill="#0638ff" stroke="#8c8c8c" stroke-width="0.4" stroke-opacity="0.55" stroke-linejoin="round"/>
<polygon points="590.79,297.72 605.4,288.67 609.34,217.89 594.55,225.37" fill="#0424aa" stroke="#8c8c8c" stroke-width="0.4" stroke-opacity="0.55" stroke-linejoin="round"/>
<polygon points="568.49,219.12 594.55,225.37 598.55,148.48 571.93,143.36" fill="#ffff00" stroke="#8c8c8c" stroke-width="0.4" stroke-opacity="0.55" stroke-linejoin="round"/>
<polygon points="594.55,225.37 609.34,217.89 613.52,142.73 598.55,148.48" fill="#a9a500" stroke="#8c8c8c" stroke-width="0.4" stroke-opacity="0.55" stroke-linejoin="round"/>
<polygon points="571.93,143.36 598.55,148.48 603,63.02 575.77,59.2" fill="#e60000" stroke="#8c8c8c" stroke-width="0.4" stroke-opacity="0.55" stroke-linejoin="round"/>
<polygon points="598.55,148.48 613.52,142.73 618.16,59.27 603,63.02" fill="#960000" stroke="#8c8c8c" stroke-width="0.4" stroke-opacity="0.55" stroke-linejoin="round"/>
<polygon points="575.77,59.2 603,63.02 618.16,59.27 591.34,55.61" fill="#ae0000" stroke="#8c8c8c" stroke-width="0.4" stroke-opacity="0.55" stroke-linejoin="round"/>
<polygon points="467.5,263.54 490.48,270.09 492.16,206.98 468.8,201.28" fill="#0638ff" stroke="#8c8c8c" stroke-width="0.4" stroke-opacity="0.55" stroke-linejoin="round"/>
<polygon points="490.48,270.09 507.25,261.79 509.15,200.04 492.16,206.98" fill="#0424aa" stroke="#8c8c8c" stroke-width="0.4" stroke-opacity="0.55" stroke-linejoin="round"/>
<polygon points="468.8,201.28 492.16,206.98 493.87,142.52 470.12,137.73" fill="#ffff00" stroke="#8c8c8c" stroke-width="0.4" stroke-opacity="0.55" stroke-linejoin="round"/>
<polygon points="492.16,206.98 509.15,200.04 511.09,137.01 493.87,142.52" fill="#a9a500" stroke="#8c8c8c" stroke-width="0.4" stroke-opacity="0.55" stroke-linejoin="round"/>
<polygon points="470.12,137.73 493.87,142.52 495.6,77.57 471.45,73.73" fill="#e60000" stroke="#8c8c8c" stroke-width="0.4" stroke-opacity="0.55" stroke-linejoin="round"/>
<polygon points="493.87,142.52 511.09,137.01 513.04,73.56 495.6,77.57" fill="#960000" stroke="#8c8c8c" stroke-width="0.4" stroke-opacity="0.55" stroke-linejoin="round"/>
<polygon points="471.45,73.73 495.6,77.57 513.04,73.56 489.19,69.86" fill="#ae0000" stroke="#8c8c8c" stroke-width="0.4" stroke-opacity="0.55" stroke-linejoin="round"/>
<polygon points="443.92,274.04 467.46,281.03 468.76,218.89 444.84,212.78" fill="#0638ff" stroke="#8c8c8c" stroke-width="0.4" stroke-opacity="0.55" stroke-linejoin="round"/>
<polygon points="467.46,281.03 484.69,272.51 486.22,211.7 468.76,218.89" fill="#0424aa" stroke="#8c8c8c" stroke-width="0.4" stroke-opacity="0.55" stroke-linejoin="round"/>
<polygon points="444.84,212.78 468.76,218.89 470.07,155.73 445.77,150.54" fill="#ffff00" stroke="#8c8c8c" stroke-width="0.4" stroke-opacity="0.55" stroke-linejoin="round"/>
<polygon points="468.76,218.89 486.22,211.7 487.77,149.93 470.07,155.73" fill="#a9a500" stroke="#8c8c8c" stroke-width="0.4" stroke-opacity="0.55" stroke-linejoin="round"/>
<polygon points="445.77,150.54 470.07,155.73 471.41,91.52 446.71,87.29" fill="#e60000" stroke="#8c8c8c" stroke-width="0.4" stroke-opacity="0.55" stroke-linejoin="round"/>
<polygon points="470.07,155.73 487.77,149.93 489.35,87.18 471.41,91.52" fill="#960000" stroke="#8c8c8c" stroke-width="0.4" stroke-opacity="0.55" stroke-linejoin="round"/>
<polygon points="446.71,87.29 471.41,91.52 489.35,87.18 464.95,83.13" fill="#ae0000" stroke="#8c8c8c" stroke-width="0.4" stroke-opacity="0.55" stroke-linejoin="round"/>
<polygon points="542.45,303.25 568.86,311.09 572.5,233.13 545.52,226.44" fill="#0638ff" stroke="#8c8c8c" stroke-width="0.4" stroke-opacity="0.55" stroke-linejoin="round"/>
<polygon points="568.86,311.09 584.65,301.32 588.5,225.12 572.5,233.13" fill="#0424aa" stroke="#8c8c8c" stroke-width="0.4" stroke-opacity="0.55" stroke-linejoin="round"/>
<polygon points="545.52,226.44 572.5,233.13 576.2,153.85 548.64,148.38" fill="#ffff00" stroke="#8c8c8c" stroke-width="0.4" stroke-opacity="0.55" stroke-linejoin="round"/>
<polygon points="572.5,233.13 588.5,225.12 592.41,147.71 576.2,153.85" fill="#a9a500" stroke="#8c8c8c" stroke-width="0.4" stroke-opacity="0.55" stroke-linejoin="round"/>
<polygon points="548.64,148.38 576.2,153.85 580.24,67.29 552.04,63.21" fill="#e60000" stroke="#8c8c8c" stroke-width="0.4" stroke-opacity="0.55" stroke-linejoin="round"/>
<polygon points="576.2,153.85 592.41,147.71 596.68,63.26 580.24,67.29" fill="#960000" stroke="#8c8c8c" stroke-width="0.4" stroke-opacity="0.55" stroke-linejoin="round"/>
<polygon points="552.04,63.21 580.24,67.29 596.68,63.26 568.92,59.36" fill="#ae0000" stroke="#8c8c8c" stroke-width="0.4" stroke-opacity="0.55" stroke-linejoin="round"/>
<polygon points="398.93,261.13 421.1,267.72 421.58,215.6 399.11,209.72" fill="#0638ff" stroke="#8c8c8c" stroke-width="0.4" stroke-opacity="0.55" stroke-linejoin="round"/>
<polygon points="421.1,267.72 438.53,259.9 439.22,208.84 421.58,215.6" fill="#0424aa" stroke="#8c8c8c" stroke-width="0.4" stroke-opacity="0.55" stroke-linejoin="round"/>
<polygon points="399.11,209.72 421.58,215.6 422.08,160.77 399.31,155.67" fill="#ffff00" stroke="#8c8c8c" stroke-width="0.4" stroke-opacity="0.55" stroke-linejoin="round"/>
<polygon points="421.58,215.6 439.22,208.84 439.95,155.16 422.08,160.77" fill="#a9a500" stroke="#8c8c8c" stroke-width="0.4" stroke-opacity="0.55" stroke-linejoin="round"/>
<polygon points="399.31,155.67 422.08,160.77 422.63,101.87 399.52,97.63" fill="#e60000" stroke="#8c8c8c" stroke-width="0.4" stroke-opacity="0.55" stroke-linejoin="round"/>
<polygon points="422.08,160.77 439.95,155.16 440.73,97.53 422.63,101.87" fill="#960000" stroke="#8c8c8c" stroke-width="0.4" stroke-opacity="0.55" stroke-linejoin="round"/>
<polygon points="399.52,97.63 422.63,101.87 440.73,97.53 417.87,93.45" fill="#ae0000" stroke="#8c8c8c" stroke-width="0.4" stroke-opacity="0.55" stroke-linejoin="round"/>
<polyline points="371.29,34.63 372,265.26 568.66,325.4 680.64,253.66" fill="none" stroke="#1c1c1c" stroke-width="1.25" stroke-linejoin="miter"/>
<line x1="371.96" y1="252.39" x2="374.19" y2="251.49" stroke="#1c1c1c" stroke-width="1.0"/>
<line x1="371.92" y1="239.43" x2="375.83" y2="237.9" stroke="#1c1c1c" stroke-width="1.0"/>
<line x1="371.88" y1="226.38" x2="374.13" y2="225.54" stroke="#1c1c1c" stroke-width="1.0"/>
<line x1="371.84" y1="213.25" x2="375.79" y2="211.84" stroke="#1c1c1c" stroke-width="1.0"/>
<line x1="371.8" y1="200.04" x2="374.07" y2="199.26" stroke="#1c1c1c" stroke-width="1.0"/>
<line x1="371.76" y1="186.73" x2="375.75" y2="185.43" stroke="#1c1c1c" stroke-width="1.0"/>
<line x1="371.72" y1="173.35" x2="374.01" y2="172.63" stroke="#1c1c1c" stroke-width="1.0"/>
<line x1="371.68" y1="159.87" x2="375.71" y2="158.68" stroke="#1c1c1c" stroke-width="1.0"/>
<line x1="371.63" y1="146.3" x2="373.95" y2="145.66" stroke="#1c1c1c" stroke-width="1.0"/>
<line x1="371.59" y1="132.65" x2="375.66" y2="131.58" stroke="#1c1c1c" stroke-width="1.0"/>
<line x1="371.55" y1="118.9" x2="373.88" y2="118.33" stroke="#1c1c1c" stroke-width="1.0"/>
<line x1="371.51" y1="105.06" x2="375.6" y2="104.12" stroke="#1c1c1c" stroke-width="1.0"/>
<line x1="371.46" y1="91.13" x2="373.81" y2="90.63" stroke="#1c1c1c" stroke-width="1.0"/>
<line x1="371.42" y1="77.1" x2="375.54" y2="76.3" stroke="#1c1c1c" stroke-width="1.0"/>
<line x1="371.38" y1="62.98" x2="373.74" y2="62.56" stroke="#1c1c1c" stroke-width="1.0"/>
<line x1="371.33" y1="48.77" x2="375.48" y2="48.1" stroke="#1c1c1c" stroke-width="1.0"/>
<line x1="382.67" y1="268.53" x2="386.81" y2="266.76" stroke="#1c1c1c" stroke-width="1.0"/>
<line x1="398.44" y1="273.35" x2="400.72" y2="272.34" stroke="#1c1c1c" stroke-width="1.0"/>
<line x1="414.55" y1="278.27" x2="418.64" y2="276.4" stroke="#1c1c1c" stroke-width="1.0"/>
<line x1="431.03" y1="283.31" x2="433.29" y2="282.24" stroke="#1c1c1c" stroke-width="1.0"/>
<line x1="447.88" y1="288.47" x2="451.92" y2="286.48" stroke="#1c1c1c" stroke-width="1.0"/>
<line x1="465.13" y1="293.74" x2="467.36" y2="292.6" stroke="#1c1c1c" stroke-width="1.0"/>
<line x1="482.78" y1="299.14" x2="486.75" y2="297.03" stroke="#1c1c1c" stroke-width="1.0"/>
<line x1="500.84" y1="304.66" x2="503.03" y2="303.45" stroke="#1c1c1c" stroke-width="1.0"/>
<line x1="519.34" y1="310.32" x2="523.25" y2="308.08" stroke="#1c1c1c" stroke-width="1.0"/>
<line x1="538.29" y1="316.11" x2="540.44" y2="314.83" stroke="#1c1c1c" stroke-width="1.0"/>
<line x1="557.71" y1="322.04" x2="561.52" y2="319.66" stroke="#1c1c1c" stroke-width="1.0"/>
<line x1="573.32" y1="322.41" x2="570.93" y2="321.69" stroke="#1c1c1c" stroke-width="1.0"/>
<line x1="588.15" y1="312.91" x2="583.83" y2="311.64" stroke="#1c1c1c" stroke-width="1.0"/>
<line x1="602.3" y1="303.84" x2="599.9" y2="303.16" stroke="#1c1c1c" stroke-width="1.0"/>
<line x1="615.84" y1="295.18" x2="611.5" y2="293.97" stroke="#1c1c1c" stroke-width="1.0"/>
<line x1="628.78" y1="286.88" x2="626.37" y2="286.23" stroke="#1c1c1c" stroke-width="1.0"/>
<line x1="641.18" y1="278.94" x2="636.83" y2="277.79" stroke="#1c1c1c" stroke-width="1.0"/>
<line x1="653.06" y1="271.33" x2="650.64" y2="270.7" stroke="#1c1c1c" stroke-width="1.0"/>
<line x1="664.46" y1="264.03" x2="660.09" y2="262.93" stroke="#1c1c1c" stroke-width="1.0"/>
<line x1="675.4" y1="257.02" x2="672.97" y2="256.42" stroke="#1c1c1c" stroke-width="1.0"/>
<text transform="matrix(0.4823 -0.2044 0.0029 0.6727 367.33 270.89)" font-family="Liberation Serif, serif" font-size="20" text-anchor="end" fill="#1a1a1a" stroke="#1a1a1a" stroke-width="0.35">0</text>
<text transform="matrix(0.4851 -0.1922 0.0029 0.6806 367.23 247.62)" font-family="Liberation Serif, serif" font-size="20" text-anchor="end" fill="#1a1a1a" stroke="#1a1a1a" stroke-width="0.35">2</text>
<text transform="matrix(0.4883 -0.1784 0.0029 0.6895 367.12 221.39)" font-family="Liberation Serif, serif" font-size="20" text-anchor="end" fill="#1a1a1a" stroke="#1a1a1a" stroke-width="0.35">4</text>
<text transform="matrix(0.4916 -0.1641 0.0030 0.6986 367.01 194.82)" font-family="Liberation Serif, serif" font-size="20" text-anchor="end" fill="#1a1a1a" stroke="#1a1a1a" stroke-width="0.35">6</text>
<text transform="matrix(0.4949 -0.1495 0.0030 0.7078 366.89 167.9)" font-family="Liberation Serif, serif" font-size="20" text-anchor="end" fill="#1a1a1a" stroke="#1a1a1a" stroke-width="0.35">8</text>
<text transform="matrix(0.4983 -0.1344 0.0030 0.7173 366.78 140.62)" font-family="Liberation Serif, serif" font-size="20" text-anchor="end" fill="#1a1a1a" stroke="#1a1a1a" stroke-width="0.35">10</text>
<text transform="matrix(0.5017 -0.1189 0.0031 0.7269 366.66 112.97)" font-family="Liberation Serif, serif" font-size="20" text-anchor="end" fill="#1a1a1a" stroke="#1a1a1a" stroke-width="0.35">12</text>
<text transform="matrix(0.5052 -0.1030 0.0031 0.7368 366.54 84.95)" font-family="Liberation Serif, serif" font-size="20" text-anchor="end" fill="#1a1a1a" stroke="#1a1a1a" stroke-width="0.35">14</text>
<text transform="matrix(0.5087 -0.0867 0.0032 0.7468 366.42 56.55)" font-family="Liberation Serif, serif" font-size="20" text-anchor="end" fill="#1a1a1a" stroke="#1a1a1a" stroke-width="0.35">16</text>
<text transform="matrix(0.4787 -0.2067 0.5426 0.1670 381.96 271.28)" font-family="Liberation Serif, serif" font-size="20" text-anchor="end" fill="#1a1a1a" stroke="#1a1a1a" stroke-width="0.35">5</text>
<text transform="matrix(0.4706 -0.2171 0.5673 0.1746 414.05 281.16)" font-family="Liberation Serif, serif" font-size="20" text-anchor="end" fill="#1a1a1a" stroke="#1a1a1a" stroke-width="0.35">10</text>
<text transform="matrix(0.4612 -0.2284 0.5938 0.1828 447.63 291.5)" font-family="Liberation Serif, serif" font-size="20" text-anchor="end" fill="#1a1a1a" stroke="#1a1a1a" stroke-width="0.35">15</text>
<text transform="matrix(0.4504 -0.2404 0.6221 0.1915 482.78 302.32)" font-family="Liberation Serif, serif" font-size="20" text-anchor="end" fill="#1a1a1a" stroke="#1a1a1a" stroke-width="0.35">20</text>
<text transform="matrix(0.4381 -0.2534 0.6525 0.2009 519.64 313.66)" font-family="Liberation Serif, serif" font-size="20" text-anchor="end" fill="#1a1a1a" stroke="#1a1a1a" stroke-width="0.35">25</text>
<text transform="matrix(0.4239 -0.2674 0.6852 0.2109 558.32 325.57)" font-family="Liberation Serif, serif" font-size="20" text-anchor="end" fill="#1a1a1a" stroke="#1a1a1a" stroke-width="0.35">30</text>
<text transform="matrix(0.6835 0.2023 -0.3928 0.2556 591.99 316.67)" font-family="Liberation Serif, serif" font-size="20" text-anchor="start" fill="#1a1a1a" stroke="#1a1a1a" stroke-width="0.35">0</text>
<text transform="matrix(0.6640 0.1861 -0.3585 0.2333 619.74 298.62)" font-family="Liberation Serif, serif" font-size="20" text-anchor="start" fill="#1a1a1a" stroke="#1a1a1a" stroke-width="0.35">5000</text>
<text transform="matrix(0.6454 0.1718 -0.3285 0.2138 645.11 282.11)" font-family="Liberation Serif, serif" font-size="20" text-anchor="start" fill="#1a1a1a" stroke="#1a1a1a" stroke-width="0.35">10000</text>
<text transform="matrix(0.6275 0.1592 -0.3022 0.1966 668.4 266.96)" font-family="Liberation Serif, serif" font-size="20" text-anchor="start" fill="#1a1a1a" stroke="#1a1a1a" stroke-width="0.35">15000</text>
<text transform="matrix(0.5875 0.1796 -0.4418 0.2246 442.5 305.7)" font-family="Liberation Serif, serif" font-size="20" text-anchor="middle" textLength="120.13" lengthAdjust="spacingAndGlyphs" fill="#1a1a1a" stroke="#1a1a1a" stroke-width="0.35">Curing ages(<tspan font-style="italic">d</tspan>)</text>
<text transform="matrix(0.2996 -0.1919 0.5681 0.1540 667.9 303.3)" font-family="Liberation Serif, serif" font-size="20" text-anchor="middle" textLength="222.03" lengthAdjust="spacingAndGlyphs" fill="#2a2a2a" stroke="#2a2a2a" stroke-width="0.15">Graphite particle size(mesh)</text>
<text transform="matrix(-0.0021 -0.6914 0.4151 -0.1188 353.5 159.4)" font-family="Liberation Serif, serif" font-size="20" text-anchor="middle" textLength="179.36" lengthAdjust="spacingAndGlyphs" fill="#1a1a1a" stroke="#1a1a1a" stroke-width="0.35">Flexural strength(MPa)</text></g>
<text transform="translate(38.7,14.6) scale(1,1.1)" font-family="Liberation Serif, serif" font-size="13.4" textLength="54.3" lengthAdjust="spacing" fill="#222">Limonite</text>
<rect x="100.5" y="2.8" width="27.2" height="12.9" fill="#0638ff" stroke="#0638ff" stroke-width="0.6"/>
<text transform="translate(134.7,14.6) scale(1,1.04)" font-family="Liberation Serif, serif" font-size="13.5" textLength="20.3" lengthAdjust="spacingAndGlyphs" fill="#222">20%</text>
<rect x="163.3" y="2.8" width="26.7" height="12.9" fill="#ffff00" stroke="#b9b900" stroke-width="0.6"/>
<text transform="translate(197.2,14.6) scale(1,1.04)" font-family="Liberation Serif, serif" font-size="13.5" textLength="20.3" lengthAdjust="spacingAndGlyphs" fill="#222">40%</text>
<rect x="225.3" y="2.8" width="26.7" height="12.9" fill="#e60000" stroke="#e60000" stroke-width="0.6"/>
<text transform="translate(259,14.6) scale(1,1.04)" font-family="Liberation Serif, serif" font-size="13.5" textLength="20.7" lengthAdjust="spacingAndGlyphs" fill="#222">60%</text>
<text transform="translate(396.4,11.9) scale(1,1)" font-family="Liberation Serif, serif" font-size="13.4" textLength="48.6" lengthAdjust="spacing" fill="#222" stroke="#222" stroke-width="0.3">Limonite</text>
<rect x="452.3" y="1.1" width="26.6" height="12.6" fill="#0638ff" stroke="#0638ff" stroke-width="0.6"/>
<text transform="translate(486.5,11.9) scale(1,0.9)" font-family="Liberation Serif, serif" font-size="13.5" textLength="20.3" lengthAdjust="spacingAndGlyphs" fill="#222">20%</text>
<rect x="514" y="1.1" width="26.3" height="12.6" fill="#ffff00" stroke="#b9b900" stroke-width="0.6"/>
<text transform="translate(547.5,11.9) scale(1,0.9)" font-family="Liberation Serif, serif" font-size="13.5" textLength="19.8" lengthAdjust="spacingAndGlyphs" fill="#222">40%</text>
<rect x="574.9" y="1.1" width="26.3" height="12.6" fill="#e60000" stroke="#e60000" stroke-width="0.6"/>
<text transform="translate(608.5,11.9) scale(1,0.9)" font-family="Liberation Serif, serif" font-size="13.5" textLength="19.6" lengthAdjust="spacingAndGlyphs" fill="#222">60%</text>
<text x="169.2" y="367.9" font-family="Liberation Serif, serif" font-size="17.4" text-anchor="middle" fill="#111">(a) Flexural strength of polycarboxylic acid</text>
<text x="169.7" y="387.7" font-family="Liberation Serif, serif" font-size="17.4" text-anchor="middle" fill="#111">retarding compound water reducer LSCCC</text>
<text x="554" y="366.9" font-family="Liberation Serif, serif" font-size="17.4" text-anchor="middle" fill="#111">(b) Flexural strength of Polycarboxylic acid</text>
<text x="555.9" y="385.9" font-family="Liberation Serif, serif" font-size="17.8" text-anchor="middle" fill="#111">superplasticizer LSCCC</text>
</svg></body></html>
